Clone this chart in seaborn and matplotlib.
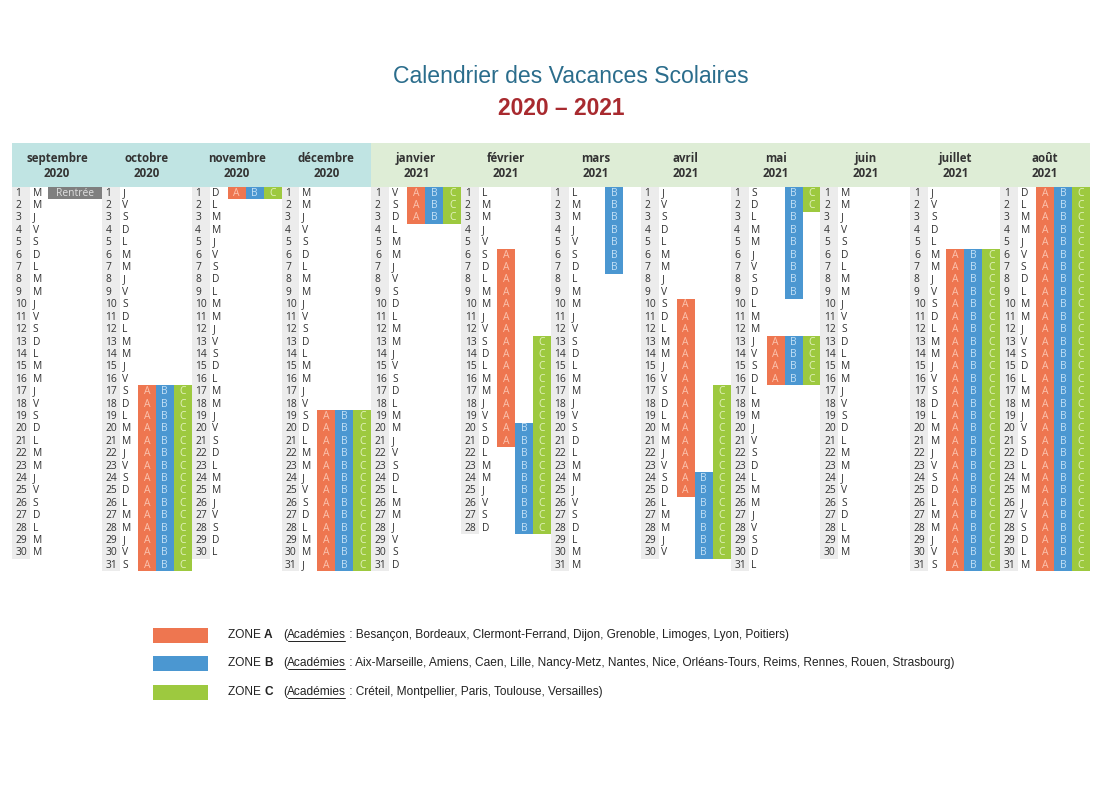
import datetime as dt
import calendar
import numpy as np
import matplotlib
matplotlib.use("Agg")
import matplotlib.pyplot as plt
from matplotlib.colors import ListedColormap
from matplotlib.patches import Rectangle
import seaborn as sns

# ---------------- data ----------------
month_names = ["septembre", "octobre", "novembre", "décembre", "janvier", "février",
               "mars", "avril", "mai", "juin", "juillet", "août"]
month_years = [2020, 2020, 2020, 2020, 2021, 2021, 2021, 2021, 2021, 2021, 2021, 2021]
month_nums = [9, 10, 11, 12, 1, 2, 3, 4, 5, 6, 7, 8]
weekday_letters = ["L", "M", "M", "J", "V", "S", "D"]

zone_a = [("2020-10-17", "2020-11-01"), ("2020-12-19", "2021-01-03"),
          ("2021-02-06", "2021-02-21"), ("2021-04-10", "2021-04-25"),
          ("2021-05-13", "2021-05-16"), ("2021-07-06", "2021-08-31")]
zone_b = [("2020-10-17", "2020-11-01"), ("2020-12-19", "2021-01-03"),
          ("2021-02-20", "2021-03-07"), ("2021-04-24", "2021-05-09"),
          ("2021-05-13", "2021-05-16"), ("2021-07-06", "2021-08-31")]
zone_c = [("2020-10-17", "2020-11-01"), ("2020-12-19", "2021-01-03"),
          ("2021-02-13", "2021-02-28"), ("2021-04-17", "2021-05-02"),
          ("2021-05-13", "2021-05-16"), ("2021-07-06", "2021-08-31")]
zone_names = ["A", "B", "C"]
rentree_day = "2020-09-01"

legend_zones = ["A", "B", "C"]
legend_texts = [" : Besançon, Bordeaux, Clermont-Ferrand, Dijon, Grenoble, Limoges, Lyon, Poitiers)",
                " : Aix-Marseille, Amiens, Caen, Lille, Nancy-Metz, Nantes, Nice, Orléans-Tours, Reims, Rennes, Rouen, Strasbourg)",
                " : Créteil, Montpellier, Paris, Toulouse, Versailles)"]

# ---------------- styles ----------------
W, H = 1118, 788
col_day_bg = "#ececec"
col_a = "#ee7650"
col_b = "#4b97d1"
col_c = "#9dc93f"
col_rentree = "#7f7f7f"
txt_a = "#fbc3ae"
txt_b = "#c4e1f6"
txt_c = "#e4f3c0"
head_teal = "#c0e4e3"
head_green = "#deedd6"
cal_font = ["Open Sans", "DejaVu Sans"]
cal_fs = 7.4

def in_periods(d, periods):
    for s, e in periods:
        if dt.date.fromisoformat(s) <= d <= dt.date.fromisoformat(e):
            return True
    return False

# matrix: 31 rows x 60 sub-columns
mat = np.full((31, 60), np.nan)
for m, (y, mo) in enumerate(zip(month_years, month_nums)):
    ndays = calendar.monthrange(y, mo)[1]
    for d in range(1, ndays + 1):
        date = dt.date(y, mo, d)
        mat[d - 1, m * 5] = 1
        for z, periods in enumerate([zone_a, zone_b, zone_c]):
            if in_periods(date, periods):
                mat[d - 1, m * 5 + 2 + z] = 2 + z
        if date == dt.date.fromisoformat(rentree_day):
            mat[d - 1, m * 5 + 2:m * 5 + 5] = 5

sns.set_theme(style="white")
plt.rcParams["font.family"] = ["Liberation Sans", "DejaVu Sans"]

fig = plt.figure(figsize=(W / 100, H / 100), dpi=100)
fig.patch.set_facecolor("white")

top_px, row_h = 187.0, 12.4
head_rows = (187 - 143) / row_h
left_px, right_px = 12.0, 1090.0
bottom_px = top_px + 31 * row_h
ax = fig.add_axes([left_px / W, 1 - bottom_px / H, (right_px - left_px) / W, (bottom_px - 143) / H])

cmap = ListedColormap([col_day_bg, col_a, col_b, col_c, col_rentree])
sns.heatmap(mat, cmap=cmap, vmin=0.5, vmax=5.5, cbar=False, ax=ax,
            xticklabels=False, yticklabels=False, linewidths=0)
ax.set_ylim(31, -head_rows)
ax.set_xlim(0, 60)
ax.set_facecolor("white")
for s in ax.spines.values():
    s.set_visible(False)

# header band
ax.add_patch(Rectangle((0, -head_rows), 20, head_rows, facecolor=head_teal, edgecolor="none", clip_on=False))
ax.add_patch(Rectangle((20, -head_rows), 40, head_rows, facecolor=head_green, edgecolor="none", clip_on=False))
for m, (name, y) in enumerate(zip(month_names, month_years)):
    cx = m * 5 + 2.5
    ax.text(cx, -2.26, name, ha="center", va="center", fontsize=8.3, fontweight="bold",
            color="#333333", family=cal_font)
    ax.text(cx, -1.1, str(y), ha="center", va="center", fontsize=8.3, fontweight="bold",
            color="#333333", family=cal_font)

zone_txt_cols = [txt_a, txt_b, txt_c]
for m, (y, mo) in enumerate(zip(month_years, month_nums)):
    ndays = calendar.monthrange(y, mo)[1]
    for d in range(1, ndays + 1):
        date = dt.date(y, mo, d)
        yc = d - 1 + 0.5
        ax.text(m * 5 + 0.2, yc, str(d), ha="left", va="center", fontsize=cal_fs,
                color="#333333", family=cal_font)
        ax.text(m * 5 + 1.15, yc, weekday_letters[date.weekday()], ha="left", va="center",
                fontsize=cal_fs, color="#333333", family=cal_font)
        if date == dt.date.fromisoformat(rentree_day):
            ax.text(m * 5 + 3.5, yc, "Rentrée", ha="center", va="center", fontsize=cal_fs,
                    color="#e0e0e0", family=cal_font)
            continue
        for z in range(3):
            if mat[d - 1, m * 5 + 2 + z] == 2 + z:
                ax.text(m * 5 + 2.5 + z, yc, zone_names[z], ha="center", va="center",
                        fontsize=cal_fs, color=zone_txt_cols[z], family=cal_font)

# overlay axes in pixel coordinates for title and legend
lax = fig.add_axes([0, 0, 1, 1])
lax.set_xlim(0, W)
lax.set_ylim(H, 0)
lax.axis("off")
lax.patch.set_alpha(0)

lax.text(571, 76, "Calendrier des Vacances Scolaires", ha="center", va="center",
         fontsize=16.6, color="#2b6d8c")
lax.text(561, 108, "2020 – 2021", ha="center", va="center", fontsize=16.4,
         fontweight="bold", color="#a82a2f")

renderer = fig.canvas.get_renderer()
leg_cols = [col_a, col_b, col_c]
leg_y = [635, 663, 692]
leg_fs = 8.6
for i, z in enumerate(legend_zones):
    yc = leg_y[i]
    lax.add_patch(Rectangle((153, yc - 7.5), 55, 15, facecolor=leg_cols[i], edgecolor="none"))
    t1 = lax.text(228, yc, "ZONE ", ha="left", va="center", fontsize=leg_fs, color="#222222")
    bb = t1.get_window_extent(renderer)
    lax.text(bb.x1, yc, z, ha="left", va="center", fontsize=leg_fs, fontweight="bold", color="#222222")
    t2 = lax.text(283, yc, "(", ha="left", va="center", fontsize=leg_fs, color="#222222")
    bb2 = t2.get_window_extent(renderer)
    t3 = lax.text(bb2.x1, yc, "Académies", ha="left", va="center", fontsize=leg_fs, color="#222222")
    bb3 = t3.get_window_extent(renderer)
    lax.plot([bb3.x0 + 0.5, bb3.x1 - 0.5], [yc + 6, yc + 6], color="#222222", lw=0.7)
    lax.text(bb3.x1, yc, legend_texts[i], ha="left", va="center", fontsize=leg_fs, color="#222222")

fig.savefig("out.png", dpi=100, facecolor="white")
